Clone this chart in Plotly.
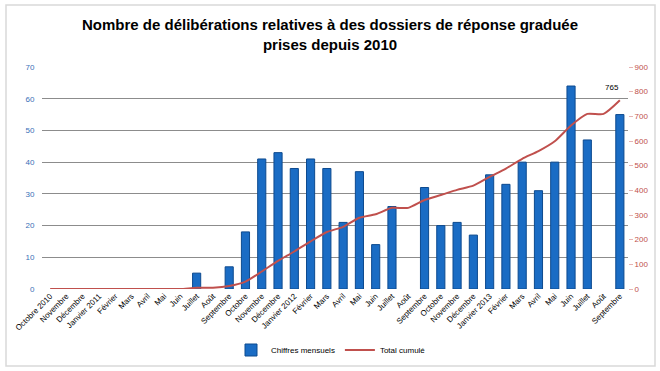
import plotly.graph_objects as go

months = ["Octobre 2010", "Novembre", "Décembre", "Janvier 2011", "Février", "Mars", "Avril", "Mai", "Juin",
          "Juillet", "Août", "Septembre", "Octobre", "Novembre", "Décembre", "Janvier 2012", "Février", "Mars",
          "Avril", "Mai", "Juin", "Juillet", "Août", "Septembre", "Octobre", "Novembre", "Décembre",
          "Janvier 2013", "Février", "Mars", "Avril", "Mai", "Juin", "Juillet", "Août", "Septembre"]
mensuels = [0, 0, 0, 0, 0, 0, 0, 0, 0,
            5, 0, 7, 18, 41, 43, 38, 41, 38,
            21, 37, 14, 26, 0, 32, 20, 21, 17,
            36, 33, 40, 31, 40, 64, 47, 0, 55]
cumul = [0, 0, 0, 0, 0, 0, 0, 0, 0,
         5, 5, 12, 30, 71, 114, 152, 193, 231,
         252, 289, 303, 329, 329, 361, 381, 402, 419,
         455, 488, 528, 559, 599, 663, 710, 710, 765]
left_ticks = [0, 10, 20, 30, 40, 50, 60, 70]
right_ticks = [0, 100, 200, 300, 400, 500, 600, 700, 800, 900]

x = list(range(len(months)))
bar_y = [v if v else None for v in mensuels]

FONT = "Liberation Sans, Arial"

fig = go.Figure()
fig.add_trace(go.Bar(
    x=x, y=bar_y, name="Chiffres mensuels",
    marker=dict(color="#1A6CC4", line=dict(color="#0D4A8F", width=1)),
    yaxis="y",
))
fig.add_trace(go.Scatter(
    x=x, y=cumul, name="Total cumulé", mode="lines",
    line=dict(color="#C0504D", width=2, shape="spline", smoothing=0.6),
    yaxis="y2",
))

fig.add_annotation(x=x[-1], y=cumul[-1], yref="y2", text=str(cumul[-1]),
                   showarrow=False, yshift=13, xshift=-8,
                   font=dict(family=FONT, size=8, color="#000000"))

W, H = 660, 371
L, R, T, B = 42, 32, 67, 82
pw, ph = W - L - R, H - T - B

def px(xp):
    return (xp - L) / pw

def py(yp):
    return (H - B - yp) / ph

fig.add_shape(type="rect", xref="paper", yref="paper",
              x0=px(6), x1=px(655), y0=py(366), y1=py(5),
              line=dict(color="#D9D9D9", width=1.5), layer="below")

fig.update_layout(
    width=W, height=H,
    margin=dict(l=L, r=R, t=T, b=B, autoexpand=False),
    paper_bgcolor="white", plot_bgcolor="white",
    title=dict(text="<b>Nombre de délibérations relatives à des dossiers de réponse graduée<br>prises depuis 2010</b>",
               x=0.5, xanchor="center", y=0.918, yanchor="top",
               font=dict(family=FONT, size=15, color="#000000")),
    bargap=0.5,
    showlegend=True,
    legend=dict(orientation="h", x=px(331), xanchor="center", y=py(350), yanchor="middle",
                font=dict(family=FONT, size=8, color="#000000"),
                itemwidth=30, tracegroupgap=0),
    xaxis=dict(tickmode="array", tickvals=x, ticktext=months, tickangle=-45,
               range=[-0.5, len(months) - 0.5], automargin=False,
               tickfont=dict(family=FONT, size=8, color="#000000"),
               showgrid=False, zeroline=False, showline=False, ticks=""),
    yaxis=dict(range=[0, 70], tickvals=left_ticks, automargin=False,
               tickfont=dict(family=FONT, size=8, color="#3A6FB7"),
               showgrid=True, gridcolor="#8C8C8C", gridwidth=1, zeroline=False, ticks="outside",
               ticklen=5, tickcolor="rgba(0,0,0,0)"),
    yaxis2=dict(range=[0, 900], tickvals=right_ticks, overlaying="y", side="right", automargin=False,
                tickfont=dict(family=FONT, size=8, color="#C0504D"),
                showgrid=False, zeroline=False, ticks="outside", ticklen=4, tickcolor="#E6B3B2",
                showline=False),
)

fig.write_html("out.html",
               config={"displayModeBar": False},
               post_script="document.documentElement.style.margin='0';document.body.style.margin='0';document.body.style.overflow='hidden';")
